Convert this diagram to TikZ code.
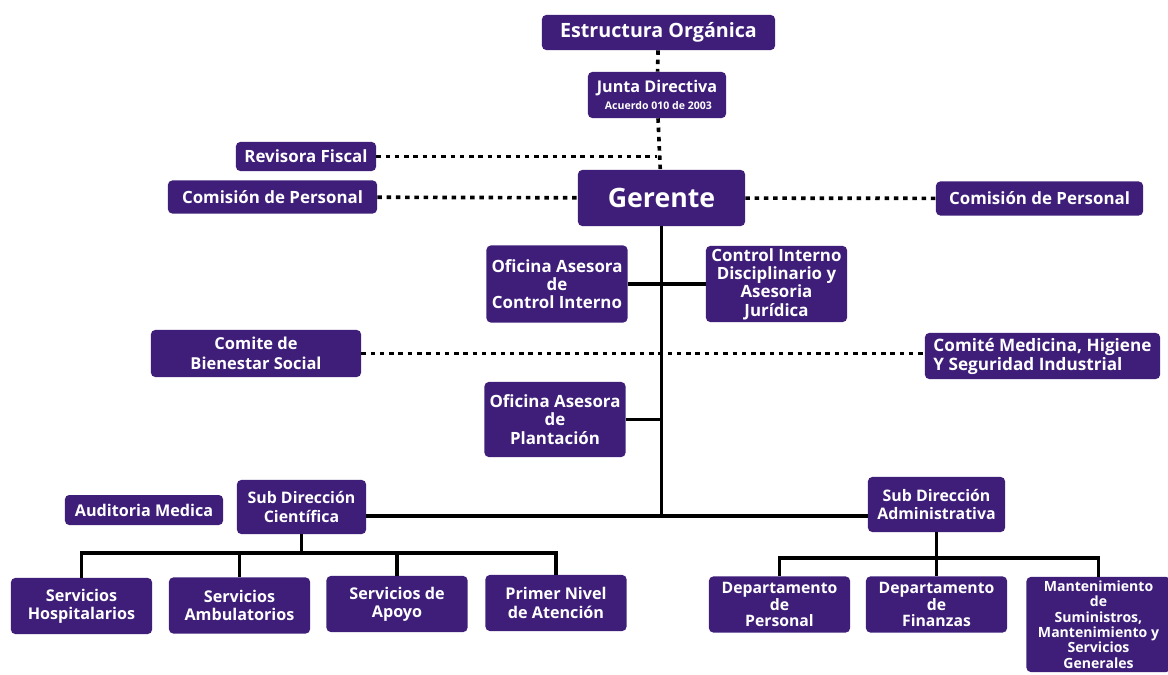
\documentclass[tikz,border=0pt]{standalone}
\usepackage{fontspec}
\setmainfont{Open Sans}
\definecolor{viola}{RGB}{62,30,120}

\begin{document}
\begin{tikzpicture}[x=0.025cm, y=-0.025cm,
    caja/.style={rectangle, rounded corners=3pt, fill=viola, text=white,
      font=\bfseries\fontsize{11.5}{13}\selectfont, align=center, inner sep=0pt,
      minimum width=3.525cm, minimum height=1.4cm},
    grande/.style={font=\bfseries\fontsize{12}{13}\selectfont},
    punteada/.style={line width=2.6pt, dash pattern=on 3.2pt off 3.4pt},
    linea/.style={line width=2.2pt}]
      \useasboundingbox (0,0) rectangle (1168,675);
      % Vertice
      \node[caja, minimum width=5.825cm, minimum height=0.875cm, font=\bfseries\fontsize{14}{16}\selectfont] (est) at (658.5,32.5) {Estructura Orgánica};
      \node[caja, minimum width=3.45cm, minimum height=1.15cm] (jun) at (657,95) {Junta Directiva\\[-1pt]{\fontsize{7.5}{8.5}\selectfont\ Acuerdo 010 de 2003}};
      \node[caja, grande, minimum width=3.5cm, minimum height=0.725cm] (rev) at (306,156.5) {Revisora Fiscal};
      \node[caja, grande, minimum width=5.225cm, minimum height=0.825cm] (coi) at (272.5,197) {Comisión de Personal};
      \node[caja, minimum width=4.175cm, minimum height=1.4cm, font=\bfseries\fontsize{19}{21}\selectfont] (ger) at (661.5,198) {Gerente};
      \node[caja, grande, minimum width=5.175cm, minimum height=0.85cm] (cod) at (1039.5,198.5) {Comisión de Personal};
      % Asesores
      \node[caja, grande, minimum height=1.925cm] (oci) at (557,284) {Oficina Asesora\\de\\Control Interno};
      \node[caja, grande, minimum height=1.9cm] (cid) at (776.5,284) {Control Interno\\Disciplinario y\\Asesoria\\Jurídica};
      \node[caja, minimum width=5.25cm, minimum height=1.175cm, font=\bfseries\fontsize{11.7}{14}\selectfont] (cbs) at (256,353.5) {Comite de\\Bienestar Social};
      \node[caja, minimum width=5.875cm, minimum height=1.15cm, align=left, font=\bfseries\fontsize{12.2}{13.5}\selectfont] (cmh) at (1042.5,356) {Comité Medicina, Higiene\\Y Seguridad Industrial};
      \node[caja, grande, minimum height=1.875cm] (opl) at (555,419.5) {Oficina Asesora\\de\\Plantación};
      % Sub direcciones
      \node[caja, minimum width=3.95cm, minimum height=0.75cm] (aud) at (144,510) {Auditoria Medica};
      \node[caja, minimum width=3.225cm, minimum height=1.35cm, font=\bfseries\fontsize{11.3}{13}\selectfont] (sdc) at (301.5,507) {Sub Dirección\\Científica};
      \node[caja, minimum width=3.425cm, minimum height=1.375cm, font=\bfseries\fontsize{11.3}{13}\selectfont] (sda) at (936.5,504.5) {Sub Dirección\\Administrativa};
      % Ultimo livello
      \node[caja] (sh) at (81.5,606) {Servicios\\Hospitalarios};
      \node[caja] (sa) at (239.5,605.5) {Servicios\\Ambulatorios};
      \node[caja] (sap) at (397,604) {Servicios de\\Apoyo};
      \node[caja] (pna) at (556,603) {Primer Nivel\\de Atención};
      \node[caja, font=\bfseries\fontsize{11.2}{12}\selectfont] (dp) at (779.5,604.5) {Departamento\\de\\Personal};
      \node[caja, font=\bfseries\fontsize{11.2}{12}\selectfont] (df) at (936.5,604.5) {Departamento\\de\\Finanzas};
      \node[caja, minimum width=3.6cm, minimum height=2.375cm, font=\bfseries\fontsize{10}{11}\selectfont] (man) at (1098.5,624.5) {Mantenimiento\\de\\Suministros,\\Mantenimiento y\\Servicios\\Generales};
      % Linee tratteggiate
      \coordinate (r) at (657,156.5);
      \draw[punteada] (est) -- (jun);
      \draw[punteada] (jun) -- (ger);
      \draw[punteada] (rev) -- (r);
      \draw[punteada] (coi) -- (ger);
      \draw[punteada] (ger) -- (cod);
      \draw[punteada] (cbs.east) -- (cbs.east -| cmh.west);
      % Linee continue
      \coordinate (m) at (661.5,516);
      \coordinate (bc) at (301.5,553);
      \coordinate (ba) at (936.5,558);
      \draw[linea] (ger) -- (m);
      \draw[linea] (oci) -- (cid);
      \draw[linea] (opl.east) -- (opl.east -| m);
      \draw[linea] (sdc.east |- m) -- (sda.west |- m);
      \draw[linea] (sdc) -- (bc);
      \foreach \n in {sh,sa,sap,pna} \draw[linea] (\n.north) |- (bc);
      \draw[linea] (sda) -- (df);
      \foreach \n in {dp,man} \draw[linea] (\n.north) |- (ba);
    \end{tikzpicture}
\end{document}
